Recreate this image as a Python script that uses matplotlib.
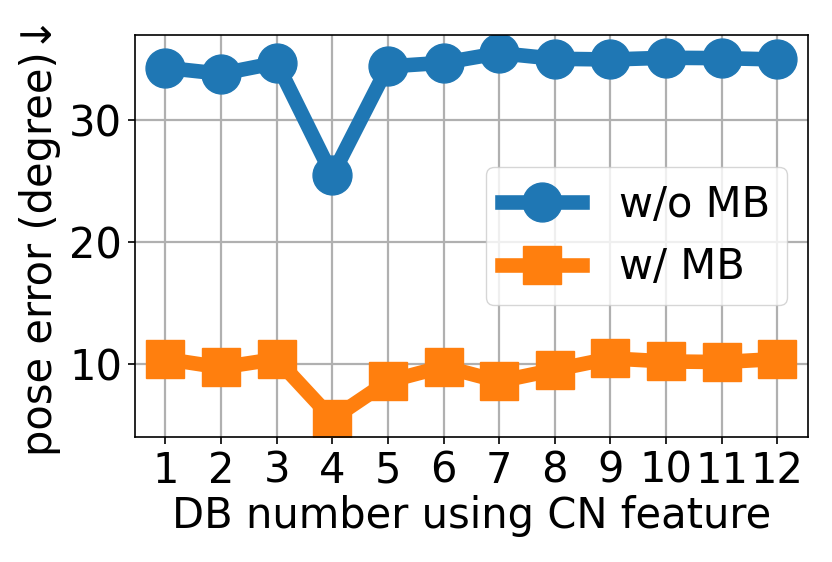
import numpy as np
import matplotlib
matplotlib.use('Agg')
import matplotlib.pyplot as plt

db_num = list(range(1, 13))
wo_mb = [34.26, 33.77, 34.67, 25.45, 34.37, 34.67, 35.46, 35.0, 34.94, 35.08, 35.05, 34.94]
w_mb = [10.41, 9.72, 10.41, 5.5, 8.58, 9.78, 8.58, 9.53, 10.46, 10.21, 10.16, 10.41]

plt.rcParams['font.size'] = 30

fig = plt.figure(figsize=(8.32, 5.62), dpi=100)
ax = fig.add_axes([0.162, 0.222, 0.809, 0.716])
ax.plot(db_num, wo_mb, marker='o', markersize=28, linewidth=10.5, label='w/o MB')
ax.plot(db_num, w_mb, marker='s', markersize=28, linewidth=10.5, label='w/ MB')
ax.set_xticks(db_num)
ax.set_yticks([10, 20, 30])
ax.grid(True, linewidth=1.6)
ax.set_axisbelow(True)
ax.tick_params(width=1.2, length=5, pad=4)
for s in ax.spines.values():
    s.set_linewidth(1.2)
ax.set_xlabel('DB number using CN feature', labelpad=2)
ax.set_ylabel('pose error (degree)↓', labelpad=6)
ax.legend(loc='center right', handlelength=1.9, handletextpad=0.9)

fig.savefig('out.png', dpi=100)
